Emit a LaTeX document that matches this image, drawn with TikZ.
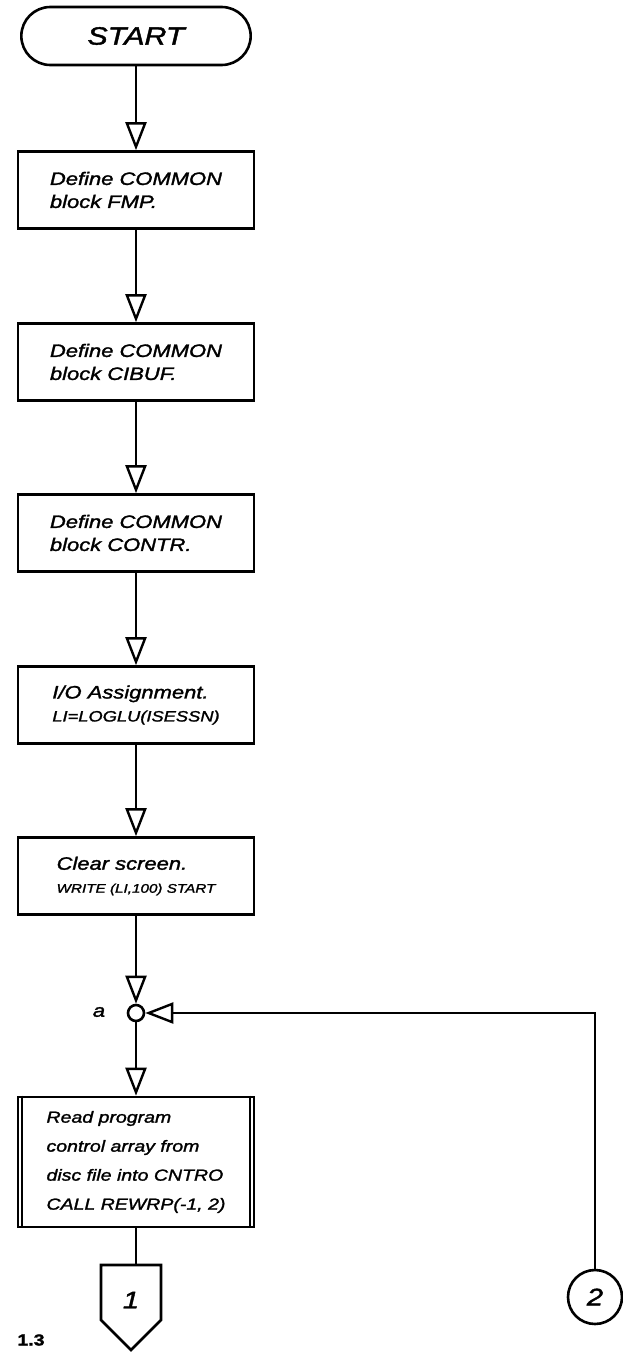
\documentclass[tikz,border=0pt]{standalone}
\usepackage{fontspec}
\setmainfont{Liberation Sans}
\newfontfamily\hand{Liberation Sans}[FakeStretch=1.22, FakeBold=1.6]
\usetikzlibrary{arrows.meta,shapes.misc}
\begin{document}
\begin{tikzpicture}[x=1pt,y=-1pt,
  every node/.style={font=\hand\itshape\fontsize{18}{23}\selectfont},
  ln/.style={line width=2.6pt},
  flow/.style={ln, -{Triangle[open,length=28pt,width=21pt,line width=2.4pt]}},
  term/.style={draw, ln, rounded rectangle, minimum width=236pt, minimum height=58pt},
  proc/.style={draw, ln, minimum width=236pt, minimum height=77pt, align=left, inner sep=4pt},
  joint/.style={draw, ln, circle, minimum size=16pt, inner sep=0pt},
  offpage/.style={draw, ln, circle, minimum size=54pt, inner sep=0pt, font=\hand\itshape\fontsize{24}{26}\selectfont}
]
\useasboundingbox (0,0) rectangle (623,1352);

% main column
\node[term, font=\hand\itshape\fontsize{25}{28}\selectfont] (start) at (136,36) {START};
\node[proc] (b1) at (136,190) {Define COMMON\\block FMP.};
\node[proc] (b2) at (136,362) {Define COMMON\\block CIBUF.};
\node[proc] (b3) at (136,533) {Define COMMON\\block CONTR.};
\node[proc] (b4) at (136,705) {I/O Assignment.\\{\fontsize{15}{19}\selectfont LI=LOGLU(ISESSN)}};
\node[proc] (b5) at (136,876) {Clear screen.\\{\fontsize{12.5}{17}\selectfont WRITE (LI,100) START}};
\node[joint] (ca) at (136,1013) {};
\node (la) at (99,1012) {a};
\node[proc, minimum height=130pt, inner sep=2pt, font=\hand\itshape\fontsize{16}{29}\selectfont] (b6) at (136,1162)
  {Read program\\control array from\\disc file into CNTRO\\CALL REWRP(-1, 2)};
% predefined-process side bars
\draw[line width=2.2pt] ([xshift=5pt]b6.north west) -- ([xshift=5pt]b6.south west);
\draw[line width=2.2pt] ([xshift=-5pt]b6.north east) -- ([xshift=-5pt]b6.south east);

% off-page connector 1
\coordinate (p1top) at (131,1265);
\draw[ln, line join=miter] (101,1265) -- (161,1265) -- (161,1320) -- (131,1350) -- (101,1320) -- cycle;
\node[font=\hand\itshape\fontsize{24}{26}\selectfont] (p1) at (131,1300) {1};

% connector 2
\node[offpage] (c2) at (595,1297) {2};

% page number
\node[font=\hand\bfseries\fontsize{16}{19}\selectfont, inner sep=1pt] (pg) at (31,1340) {1.3};

% flow lines
\draw[flow] (start.south) -- (b1.north);
\draw[flow] (b1.south) -- (b2.north);
\draw[flow] (b2.south) -- (b3.north);
\draw[flow] (b3.south) -- (b4.north);
\draw[flow] (b4.south) -- (b5.north);
\draw[flow] (b5.south) -- (ca.north);
\draw[flow] (ca.south) -- (b6.north);
\draw[ln] (b6.south) -- (b6.south |- p1top);
\draw[flow] (c2.north) |- (ca.east);
\end{tikzpicture}
\end{document}
